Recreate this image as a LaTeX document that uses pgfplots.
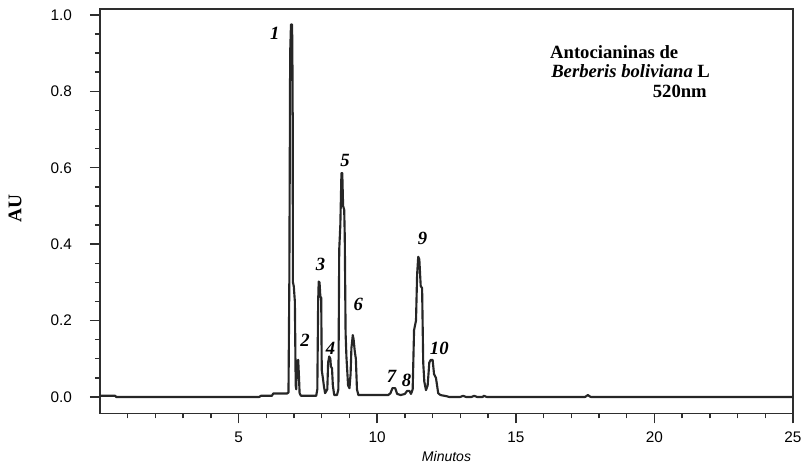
\documentclass[border=0pt]{standalone}
\usepackage{fontspec}
\setmainfont{Liberation Serif}
\setsansfont{Liberation Sans}
\usepackage{pgfplots}
\usepackage{pgfplotstable}
\pgfplotsset{compat=1.18}
\definecolor{trace}{HTML}{262626}
\definecolor{frame}{HTML}{2E2E2E}
\tikzset{
  peak/.style={font=\bfseries\itshape\fontsize{14}{16}\selectfont},
  note/.style={font=\bfseries\fontsize{14}{16}\selectfont, inner sep=0pt},
}

% chromatogram trace (min, AU)
\pgfplotstableread{
t au
0.00 0.003
0.55 0.003
0.58 0.000
5.75 0.000
5.80 0.003
6.20 0.003
6.25 0.009
6.75 0.009
6.80 0.012
6.83 0.300
6.86 0.900
6.89 0.975
6.93 0.975
6.95 0.800
6.96 0.300
6.99 0.290
7.03 0.250
7.06 0.030
7.08 0.020
7.10 0.090
7.15 0.097
7.18 0.050
7.20 0.010
7.25 0.003
7.80 0.003
7.84 0.020
7.87 0.250
7.89 0.302
7.92 0.300
7.95 0.262
7.98 0.260
8.00 0.070
8.04 0.050
8.08 0.027
8.12 0.010
8.20 0.020
8.23 0.090
8.27 0.106
8.31 0.100
8.33 0.080
8.37 0.075
8.40 0.030
8.45 0.005
8.55 0.005
8.60 0.020
8.63 0.385
8.67 0.450
8.71 0.586
8.74 0.586
8.77 0.500
8.81 0.490
8.83 0.420
8.86 0.167
8.89 0.105
8.95 0.030
9.00 0.023
9.04 0.060
9.07 0.128
9.12 0.162
9.15 0.150
9.19 0.120
9.23 0.100
9.27 0.020
9.32 0.005
10.40 0.005
10.48 0.010
10.55 0.023
10.65 0.023
10.72 0.008
10.85 0.005
11.00 0.008
11.08 0.016
11.16 0.016
11.22 0.008
11.28 0.020
11.33 0.175
11.40 0.200
11.44 0.320
11.48 0.367
11.52 0.360
11.57 0.290
11.62 0.285
11.66 0.090
11.70 0.040
11.76 0.018
11.82 0.030
11.88 0.090
11.93 0.097
12.00 0.097
12.05 0.060
12.12 0.050
12.20 0.010
12.28 0.005
12.50 0.002
12.60 0.000
13.00 0.000
13.10 0.003
13.20 0.000
13.40 0.000
13.50 0.003
13.60 0.000
13.80 0.000
13.85 0.003
13.95 0.000
17.50 0.000
17.60 0.005
17.70 0.000
25.00 0.000
}\chromdata

\begin{document}
\begin{tikzpicture}
\begin{axis}[
  scale only axis, width=519.75pt, height=303.4pt,
  xmin=0, xmax=25, ymin=-0.0432, ymax=1.0157,
  axis line style={line width=1.3pt, color=frame},
  tick align=outside, xtick pos=bottom, ytick pos=left,
  xtick={5,10,15,20,25}, minor xtick={1,...,24},
  ytick={0,0.2,0.4,0.6,0.8,1.0}, minor y tick num=3,
  major tick length=7.5pt, minor tick length=3.75pt,
  tick style={line width=1.1pt, color=frame},
  tick label style={font=\sffamily\fontsize{11.5}{13}\selectfont,
    /pgf/number format/assume math mode=true},
  yticklabel style={xshift=-10pt, /pgf/number format/.cd, fixed, fixed zerofill, precision=1},
  xticklabel style={yshift=-3pt},
  xlabel={Minutos},
  xlabel style={at={(axis description cs:0.5,-0.1074)}, anchor=center,
    font=\sffamily\itshape\fontsize{10.5}{12}\selectfont},
  ylabel={AU},
  ylabel style={at={(axis description cs:-0.1227,0.506)}, anchor=center,
    font=\bfseries\fontsize{14.5}{16}\selectfont},
]
\addplot[trace, line width=1.6pt, line join=round] table[x=t, y=au] {\chromdata};

\node[peak] at (axis cs:6.31,0.953) {1};
\node[peak] at (axis cs:7.40,0.149) {2};
\node[peak] at (axis cs:7.96,0.346) {3};
\node[peak] at (axis cs:8.32,0.128) {4};
\node[peak] at (axis cs:8.84,0.620) {5};
\node[peak] at (axis cs:9.32,0.241) {6};
\node[peak] at (axis cs:10.52,0.055) {7};
\node[peak] at (axis cs:11.06,0.044) {8};
\node[peak] at (axis cs:11.64,0.414) {9};
\node[peak] at (axis cs:12.24,0.126) {10};

\node[note, anchor=base west] at (axis cs:16.23,0.887) {Antocianinas de};
\node[note, anchor=base west] at (axis cs:16.27,0.835) {\itshape Berberis boliviana\/\upshape{} L};
\node[note, anchor=base east] at (axis cs:21.90,0.783) {520nm};
\end{axis}
\pgfresetboundingbox
\path[use as bounding box] (-75pt,-40.1pt) rectangle (525.75pt,310.1pt);
\end{tikzpicture}
\end{document}
